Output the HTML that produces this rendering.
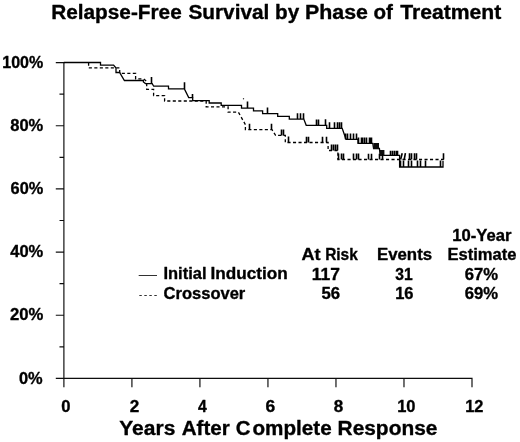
<!DOCTYPE html>
<html><head><meta charset="utf-8"><title>Relapse-Free Survival by Phase of Treatment</title>
<style>
html,body{margin:0;padding:0;background:#fff;}
svg{display:block;will-change:transform;font-family:"Liberation Sans",sans-serif;font-weight:bold;fill:#000;}
text{stroke:#000;stroke-width:0.35;stroke-linejoin:round;}
</style></head><body>
<svg width="520" height="442" viewBox="0 0 520 442">
<defs><filter id="soft" x="0" y="0" width="520" height="442" filterUnits="userSpaceOnUse"><feGaussianBlur stdDeviation="0.35"/></filter></defs>
<rect width="520" height="442" fill="#fff"/>
<g filter="url(#soft)">
<path d="M63.9 62.1V387.2M55.8 378.4H472.6M55.8 62.60H63.9M55.8 125.76H63.9M55.8 188.92H63.9M55.8 252.08H63.9M55.8 315.24H63.9M59.5 94.18H63.9M59.5 157.34H63.9M59.5 220.50H63.9M59.5 283.66H63.9M59.5 346.82H63.9M131.92 378.4V387.2M199.93 378.4V387.2M267.95 378.4V387.2M335.97 378.4V387.2M403.98 378.4V387.2M472.00 378.4V387.2" stroke="#111" stroke-width="1.2" fill="none"/>
<path d="M63.80 62.50 L100.50 62.50 L100.50 65.20 L113.60 65.20 L116.00 68.00 L116.00 72.50 L119.60 72.50 L124.40 80.50 L143.40 80.50 L143.40 82.00 L145.50 83.60 L152.20 83.60 L153.70 86.20 L168.50 86.20 L168.50 88.90 L184.40 88.90 L188.70 97.60 L192.70 97.60 L192.70 100.60 L209.20 100.60 L209.20 103.00 L221.20 103.00 L221.20 105.40 L241.50 105.40 L241.50 108.10 L253.50 108.10 L253.50 110.80 L262.60 110.80 L262.60 113.60 L277.70 113.60 L277.70 116.30 L289.30 116.30 L289.30 119.10 L303.80 119.10 L306.20 125.30 L326.70 125.30 L326.70 128.30 L342.20 128.30 L346.00 139.30 L358.00 139.30 L358.00 143.30 L372.80 143.30 L373.60 148.50 L379.40 148.50 L380.20 155.40 L399.60 155.40 L399.60 167.00 L443.00 167.00 L443.00 161.00" stroke="#000" stroke-width="1.3" fill="none" stroke-linejoin="miter"/>
<path d="M151.5 83.6V76.9M184.5 88.9V82.3M192.5 97.6V94.0M247.5 108.1V101.6M267.5 113.6V107.6M297.5 119.1V113.2M300.5 119.1V113.2M303.5 119.1V113.2M316.5 125.3V119.4M318.5 125.3V119.4M325.5 125.3V119.3M329.5 128.3V122.2M334.5 128.3V122.2M337.5 128.3V122.2M339.5 128.3V122.2M341.5 128.3V122.2M345.5 139.3V133.4M347.5 139.3V133.4M350.5 139.3V133.4M353.5 139.3V133.4M356.5 139.3V133.4M358.5 143.3V137.6M361.5 143.3V137.6M362.5 143.3V137.6M364.5 143.3V137.6M366.5 143.3V137.6M369.5 143.3V137.6M370.5 143.3V137.6M371.5 143.3V137.6M390.5 155.4V150.8M392.5 155.4V150.8M394.5 155.4V150.8M396.5 155.4V150.8M397.5 155.4V150.8M400.5 167.0V160.6M403.5 167.0V160.6M408.5 167.0V160.6M411.5 167.0V160.6M417.5 167.0V160.6M420.5 167.0V160.6M425.5 167.0V160.6M440.5 167.0V160.6" stroke="#000" stroke-width="1.6" fill="none"/>
<rect x="373.4" y="143.0" width="5.6" height="5.8" fill="#111"/><rect x="379.8" y="150.0" width="4.6" height="5.7" fill="#111"/>
<path d="M88.60 62.60 L88.60 67.90 L119.70 67.90 L119.70 73.40 L135.60 73.40 L135.60 78.90 L143.70 78.90 L146.70 81.30 L146.70 89.30 L153.60 89.30 L153.60 95.60 L164.60 95.60 L164.60 101.00 L206.20 101.00 L206.20 106.80 L228.10 106.80 L228.10 112.20 L238.40 112.20 L245.40 124.60 L245.40 129.60 L272.00 129.60 L275.60 135.40 L285.30 135.40 L285.30 142.50 L328.10 142.50 L328.10 150.50 L337.90 150.50 L337.90 159.50 L443.80 159.50" stroke="#000" stroke-width="1.3" fill="none" stroke-dasharray="3.1 2.4"/>
<path d="M249.5 129.6V123.8M271.5 129.6V123.8M281.5 135.4V129.5M283.5 135.4V129.5M288.5 142.5V136.4M306.5 142.5V136.8M308.5 142.5V136.8M322.5 142.5V136.7M326.5 142.5V136.7M331.5 150.5V144.6M333.5 150.5V144.6M335.5 150.5V144.6M337.5 150.5V144.6M338.5 159.5V153.6M341.5 159.5V153.6M343.5 159.5V153.6M353.5 159.5V153.6M356.5 159.5V153.6M358.5 159.5V153.6M368.5 159.5V153.8M371.5 159.5V153.8M379.5 159.5V153.8M382.5 159.5V153.8M409.5 159.5V153.2M411.5 159.5V153.2M414.5 159.5V153.2M416.5 159.5V153.2M443.5 159.5V153.2M400.6 159.5L402.2 153.2M404.2 159.5L405.4 153.2" stroke="#000" stroke-width="1.6" fill="none"/>
<circle cx="243.5" cy="98.8" r="0.7" fill="#333"/>
<path d="M138.7 275.5H157" stroke="#333" stroke-width="1" fill="none"/>
<path d="M139.3 295.5H157" stroke="#333" stroke-width="1" fill="none" stroke-dasharray="2.5 2.5"/>
<text x="51.22" y="19" font-size="20" textLength="130.5" lengthAdjust="spacingAndGlyphs">Relapse-Free</text>
<text x="188.41" y="19" font-size="20" textLength="80.93" lengthAdjust="spacingAndGlyphs">Survival</text>
<text x="275.08" y="19" font-size="20" textLength="24.17" lengthAdjust="spacingAndGlyphs">by</text>
<text x="305.04" y="19" font-size="20" textLength="62.95" lengthAdjust="spacingAndGlyphs">Phase</text>
<text x="373.45" y="19" font-size="20" textLength="19.43" lengthAdjust="spacingAndGlyphs">of</text>
<text x="400.21" y="19" font-size="20" textLength="101.03" lengthAdjust="spacingAndGlyphs">Treatment</text>
<text x="119.26" y="435" font-size="20" textLength="56.07" lengthAdjust="spacingAndGlyphs">Years</text>
<text x="181.66" y="435" font-size="20" textLength="48.05" lengthAdjust="spacingAndGlyphs">After</text>
<text x="235.76" y="435" font-size="20" textLength="14.72" lengthAdjust="spacingAndGlyphs">C</text>
<text x="252.45" y="435" font-size="20" textLength="79.27" lengthAdjust="spacingAndGlyphs">omplete</text>
<text x="337.57" y="435" font-size="20" textLength="99.81" lengthAdjust="spacingAndGlyphs">Response</text>
<text x="163.48" y="279" font-size="16.5" textLength="43.03" lengthAdjust="spacingAndGlyphs">Initial</text>
<text x="210.53" y="279" font-size="16.5" textLength="77.21" lengthAdjust="spacingAndGlyphs">Induction</text>
<text x="163.57" y="299" font-size="16.5" textLength="81.72" lengthAdjust="spacingAndGlyphs">Crossover</text>
<text x="301.49" y="260" font-size="16.5" textLength="19.05" lengthAdjust="spacingAndGlyphs">At</text>
<text x="325.14" y="260" font-size="16.5" textLength="32.66" lengthAdjust="spacingAndGlyphs">Risk</text>
<text x="376.95" y="260" font-size="16.5" textLength="55.16" lengthAdjust="spacingAndGlyphs">Events</text>
<text x="452.27" y="241" font-size="16.5" textLength="59.28" lengthAdjust="spacingAndGlyphs">10-Year</text>
<text x="447.47" y="260" font-size="16.5" textLength="69.03" lengthAdjust="spacingAndGlyphs">Estimate</text>
<text x="311.87" y="280" font-size="16.5" textLength="28.07" lengthAdjust="spacingAndGlyphs">117</text>
<text x="321.57" y="299" font-size="16.5" textLength="18.59" lengthAdjust="spacingAndGlyphs">56</text>
<text x="395.19" y="280" font-size="16.5" textLength="17.39" lengthAdjust="spacingAndGlyphs">31</text>
<text x="395.18" y="299" font-size="16.5" textLength="18.32" lengthAdjust="spacingAndGlyphs">16</text>
<text x="464.77" y="280" font-size="16.5" textLength="33.33" lengthAdjust="spacingAndGlyphs">67%</text>
<text x="464.77" y="299" font-size="16.5" textLength="33.33" lengthAdjust="spacingAndGlyphs">69%</text>
<text x="2.3" y="68" font-size="16.5" textLength="40.98" lengthAdjust="spacingAndGlyphs">100%</text>
<text x="10.28" y="131" font-size="16.5" textLength="33.02" lengthAdjust="spacingAndGlyphs">80%</text>
<text x="10.58" y="194" font-size="16.5" textLength="32.71" lengthAdjust="spacingAndGlyphs">60%</text>
<text x="10.22" y="257" font-size="16.5" textLength="33.07" lengthAdjust="spacingAndGlyphs">40%</text>
<text x="9.92" y="320" font-size="16.5" textLength="33.38" lengthAdjust="spacingAndGlyphs">20%</text>
<text x="18.98" y="384" font-size="16.5" textLength="23.72" lengthAdjust="spacingAndGlyphs">0%</text>
<text x="61.27" y="412" font-size="16.5" textLength="9.23" lengthAdjust="spacingAndGlyphs">0</text>
<text x="129.66" y="412" font-size="16.5" textLength="9.52" lengthAdjust="spacingAndGlyphs">2</text>
<text x="197.99" y="412" font-size="16.5" textLength="8.71" lengthAdjust="spacingAndGlyphs">4</text>
<text x="265.54" y="412" font-size="16.5" textLength="9.69" lengthAdjust="spacingAndGlyphs">6</text>
<text x="333.66" y="412" font-size="16.5" textLength="9.46" lengthAdjust="spacingAndGlyphs">8</text>
<text x="397.18" y="412" font-size="16.5" textLength="18.32" lengthAdjust="spacingAndGlyphs">10</text>
<text x="465.18" y="412" font-size="16.5" textLength="18.21" lengthAdjust="spacingAndGlyphs">12</text>
</g>
</svg>
</body></html>
